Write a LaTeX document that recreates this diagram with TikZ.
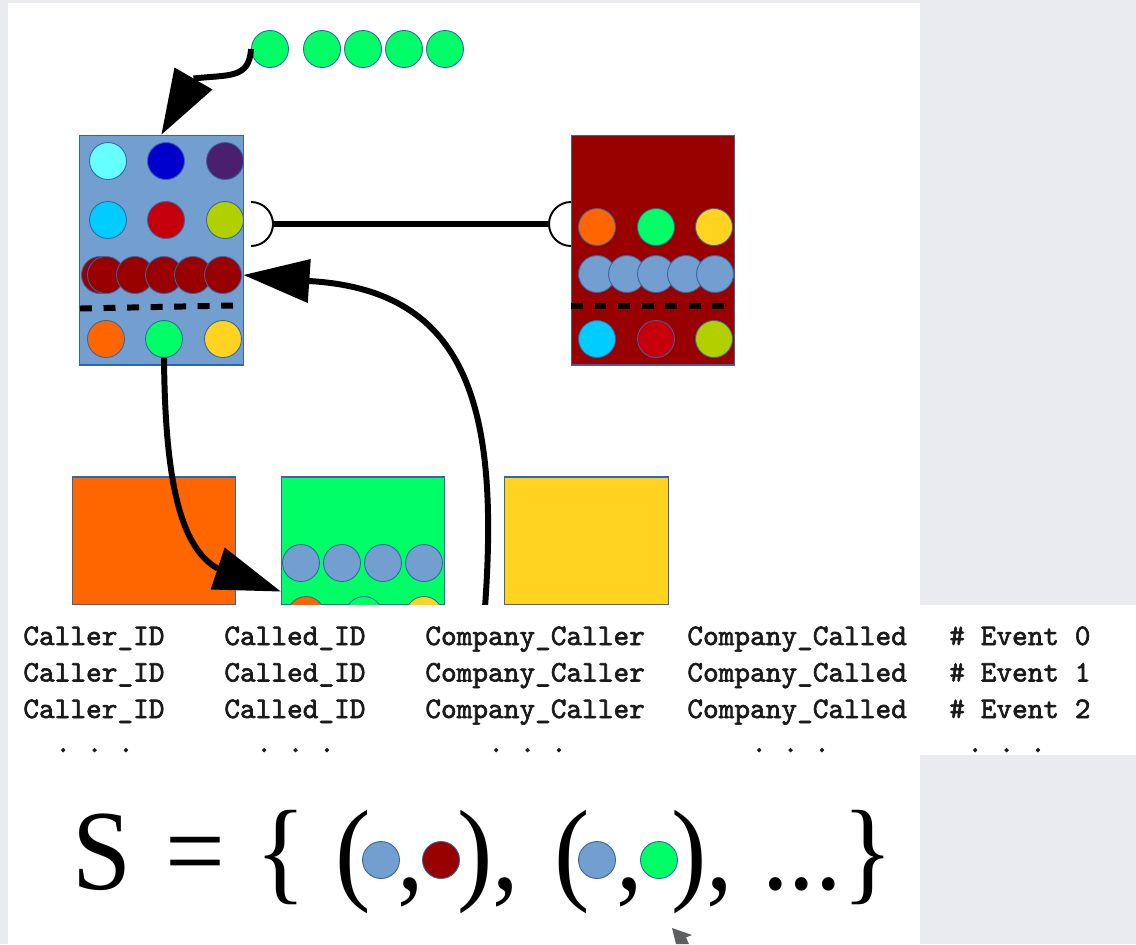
\documentclass[tikz,border=0pt]{standalone}
\usepackage{fontspec}
\newfontfamily\slidefont{Liberation Serif}[FakeStretch=0.93]
\newfontfamily\tablefont{lmmono10-regular.otf}[FakeBold=2]
\usetikzlibrary{calc}

\definecolor{bggray}{HTML}{E9EBEE}
\definecolor{rim}{HTML}{3465A4}
\definecolor{cblue}{HTML}{729FCF}
\definecolor{clight}{HTML}{66FFFF}
\definecolor{cnavy}{HTML}{0000CC}
\definecolor{cpurple}{HTML}{4B1F6F}
\definecolor{csky}{HTML}{00CCFF}
\definecolor{cred}{HTML}{C5000B}
\definecolor{clime}{HTML}{B2D000}
\definecolor{cmaroon}{HTML}{990000}
\definecolor{corange}{HTML}{FF6600}
\definecolor{cgreen}{HTML}{00FF66}
\definecolor{cyellow}{HTML}{FFD320}
\definecolor{ink}{HTML}{1A1A1A}
\definecolor{pointer}{HTML}{5C6060}

\begin{document}
\begin{tikzpicture}[x=0.02cm, y=-0.02cm,
  dot/.style={circle, draw=rim, line width=0.5pt, minimum size=0.74cm, inner sep=0pt},
  panel/.style={rectangle, draw=rim, line width=0.6pt, inner sep=0pt, minimum width=3.27cm},
  conn/.style={line width=3.4pt},
  head/.style={fill=black},
  divider/.style={line width=3.4pt, dash pattern=on 6.8pt off 6.6pt},
  socket/.style={line width=1.1pt},
  rowtext/.style={anchor=base west, inner sep=0pt, text=ink,
    font=\tablefont\fontsize{17}{20}\selectfont},
  sym/.style={anchor=base west, inner sep=0pt, font=\slidefont\fontsize{65}{72}\selectfont}]

\useasboundingbox (0,0) rectangle (1136,944);
\fill[bggray] (0,0) rectangle (1136,944);
\fill[white] (8,3) rectangle (920,944);

% incoming stream of green events
\foreach \x [count=\i] in {270,322,363,404,445}
  \node[dot, fill=cgreen] (g\i) at (\x,49) {};

% caller company
\node[panel, fill=cblue, minimum height=4.6cm] (blue) at (161.5,250) {};
\node[dot, fill=clight]  (b11) at (108,161) {};
\node[dot, fill=cnavy]   (b12) at (166,161) {};
\node[dot, fill=cpurple] (b13) at (225,161) {};
\node[dot, fill=csky]    (b21) at (108,220) {};
\node[dot, fill=cred]    (b22) at (166,220) {};
\node[dot, fill=clime]   (b23) at (225,220) {};
\foreach \x [count=\i] in {100,106,135,164,193,223}
  \node[dot, fill=cmaroon] (d\i) at (\x,275) {};
\draw[divider] (80,308.5) -- (233,305.5);
\node[dot, fill=corange] (b41) at (106,339) {};
\node[dot, fill=cgreen]  (b42) at (164,339) {};
\node[dot, fill=cyellow] (b43) at (223,339) {};

% called company
\node[panel, fill=cmaroon, minimum height=4.6cm] (red) at (653,250) {};
\node[dot, fill=corange] (r11) at (597,227) {};
\node[dot, fill=cgreen]  (r12) at (656,227) {};
\node[dot, fill=cyellow] (r13) at (714,227) {};
\foreach \x [count=\i] in {597,627,656,686,715}
  \node[dot, fill=cblue] (u\i) at (\x,274) {};
\draw[divider] (571,306) -- (724,306);
\node[dot, fill=csky]  (r31) at (597,339) {};
\node[dot, fill=cred]  (r32) at (656,339) {};
\node[dot, fill=clime] (r33) at (714,339) {};

% lower row of companies
\node[panel, fill=corange, minimum height=2.56cm] (orange) at (154,541) {};
\node[panel, fill=cgreen,  minimum height=2.56cm] (green)  at (363,541) {};
\node[panel, fill=cyellow, minimum height=2.56cm] (yellow) at (586.5,541) {};
\foreach \x [count=\i] in {301,342,383,424}
  \node[dot, fill=cblue] (v\i) at (\x,563) {};
\node[dot, fill=corange] (w1) at (306,615) {};
\node[dot, fill=cgreen]  (w2) at (364,615) {};
\node[dot, fill=cyellow] (w3) at (424,615) {};

% link between the two companies
\coordinate (plugL) at (273,224);
\coordinate (plugR) at (549,224);
\draw[socket] ($(plugL)+(-22,-22)$) arc[start angle=-90, end angle=90, radius=22];
\draw[socket] ($(plugR)+(22,-22)$) arc[start angle=-90, end angle=-270, radius=22];
\draw[conn] (plugL) -- (plugR);

% event entering the caller company
\draw[conn] (g1.west) .. controls +(-2,30) and +(36,-4) .. ($(blue.north)+(32,-56)$);
\fill[head] (blue.north) -- +(13,-67) -- +(51,-45) -- cycle;

% green event handed to the green company
\coordinate (intoGreen) at ($(green.north west)+(0,115)$);
\draw[conn] (b42.south) .. controls +(1,113) and +(-40,-22) .. ($(intoGreen)+(-63,-23)$);
\fill[head] (intoGreen) -- +(-56,-44) -- +(-70,-2) -- cycle;

% feedback into the caller company
\coordinate (feed) at (484,620);
\coordinate (intoBlue) at (blue.east |- d6);
\draw[conn] (feed) .. controls (501,410) and (470,290) .. ($(intoBlue)+(65,6)$);
\fill[head] (intoBlue) -- +(67,-16) -- +(64,28) -- cycle;

% event list
\fill[white] (8,605) rectangle (1136,755);
\foreach \k/\yy in {0/645,1/681.5,2/718} {
  \node[rowtext] (caller\k)  at (23,\yy)  {Caller\_ID};
  \node[rowtext] (called\k)  at (224,\yy) {Called\_ID};
  \node[rowtext] (ccaller\k) at (425,\yy) {Company\_Caller};
  \node[rowtext] (ccalled\k) at (687,\yy) {Company\_Called};
  \node[rowtext] (event\k)   at (949,\yy) {\# Event \k};
}
\foreach \x [count=\i] in {55,256,488,751,967}
  \node[rowtext] (more\i) at (\x,752) {.\ .\ .};

% set of pairs
\node[sym] (sname) at (72,889)  {S};
\node[sym] (eqs)   at (165,889) {=};
\node[sym] (lbr)   at (255,889) {\{};
\node[sym] (p1o)   at (335,889) {(};
\node[sym] (cm1)   at (397,889) {,};
\node[sym] (p1c)   at (457,889) {),};
\node[sym] (p2o)   at (554,889) {(};
\node[sym] (cm2)   at (616,889) {,};
\node[sym] (p2c)   at (671,889) {),};
\node[sym] (tail)  at (762,889) {...\}};
\node[dot, fill=cblue]   (fc1) at (381,860) {};
\node[dot, fill=cmaroon] (fc2) at (441,860) {};
\node[dot, fill=cblue]   (fc3) at (597,860) {};
\node[dot, fill=cgreen]  (fc4) at (659,860) {};

% mouse pointer
\fill[pointer] (672,928) -- (692,935) -- (686,937.5) -- (689,944) -- (676,944) -- cycle;
\end{tikzpicture}
\end{document}
